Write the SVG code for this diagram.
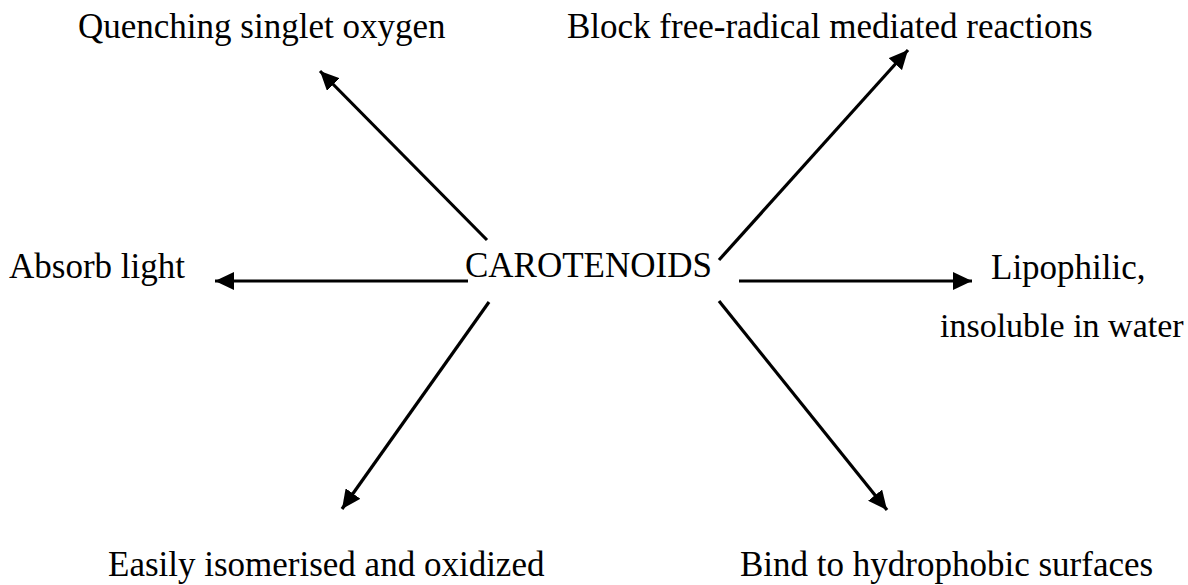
<svg xmlns="http://www.w3.org/2000/svg" width="1188" height="585" viewBox="0 0 1188 585">
<defs>
<style>
text{font-family:"Liberation Serif","Times New Roman",serif;font-size:35px;fill:#000}
.c line{stroke:#000;stroke-width:3.2;marker-end:url(#ah)}
</style>
<marker id="ah" markerUnits="userSpaceOnUse" markerWidth="20" markerHeight="18" refX="19" refY="9" orient="auto" viewBox="0 0 20 18">
<polygon points="0,0 19,9 0,18" fill="#000"/>
</marker>
</defs>
<rect width="1188" height="585" fill="#fff"/>
<g id="center"><text x="465" y="277">CAROTENOIDS</text></g>
<g id="n-quench"><text x="78" y="38">Quenching singlet oxygen</text></g>
<g id="n-block"><text x="567" y="38">Block free-radical mediated reactions</text></g>
<g id="n-absorb"><text x="9" y="278">Absorb light</text></g>
<g id="n-lipo"><text x="991" y="279">Lipophilic,</text><text x="940" y="337" style="font-size:34px">insoluble in water</text></g>
<g id="n-easily"><text x="108" y="576">Easily isomerised and oxidized</text></g>
<g id="n-bind"><text x="740" y="576">Bind to hydrophobic surfaces</text></g>
<g id="connectors" class="c">
<line x1="487" y1="240" x2="320" y2="71"/>
<line x1="719" y1="260" x2="908" y2="50"/>
<line x1="468" y1="281" x2="215" y2="281"/>
<line x1="739" y1="281" x2="972" y2="281"/>
<line x1="489" y1="302" x2="342" y2="509"/>
<line x1="719" y1="301" x2="887" y2="510"/>
</g>
</svg>
